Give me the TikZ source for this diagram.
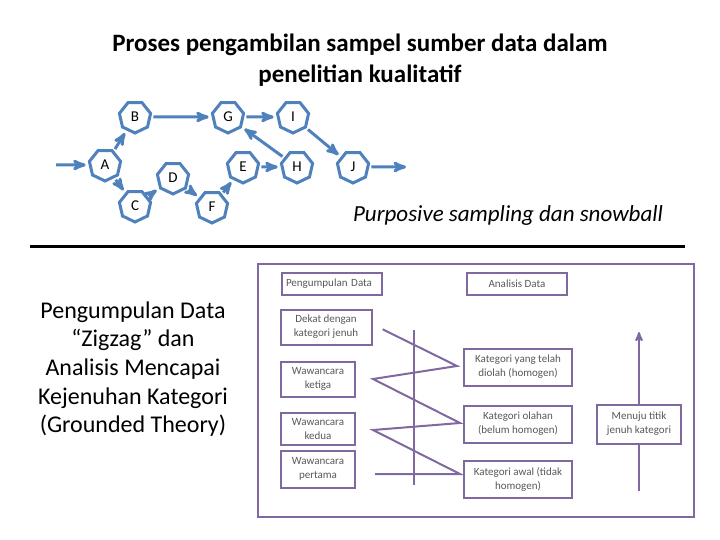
\documentclass[tikz,border=0pt]{standalone}
\usepackage{fontspec}
\setmainfont{Carlito}
\usetikzlibrary{arrows,shapes.geometric}
\definecolor{nodeblue}{RGB}{79,129,189}
\definecolor{boxpurple}{RGB}{128,104,160}

\begin{document}
\begin{tikzpicture}[x=1pt,y=-1pt,->,>=stealth',shorten >=3pt,shorten <=2pt,semithick]
		\useasboundingbox (0,0) rectangle (720,540);
		\tikzstyle{sampel}=[regular polygon,regular polygon sides=7,shape border rotate=180,minimum size=32pt,inner sep=0pt,draw=nodeblue,line width=3pt,fill=white,text=black,font=\fontsize{15}{17}\selectfont]
		\tikzstyle{alur}=[nodeblue,line width=3pt]
		\tikzstyle{kotak}=[draw=boxpurple,line width=2pt,fill=white,align=center,inner sep=0pt,text=black!65,font=\fontsize{11}{14}\selectfont]
		\tikzstyle{garis}=[-,draw=boxpurple,line width=2pt]
		% judul
		\node (judul) at (360,60) [align=center,font=\fontsize{25}{31}\selectfont\bfseries] {Proses pengambilan sampel sumber data dalam\\penelitian kualitatif};
		% sumber data
		\node[sampel] (A) at (105,165) {A};
		\node[sampel] (B) at (135,117) {B};
		\node[sampel] (C) at (135,206) {C};
		\node[sampel] (D) at (173,178) {D};
		\node[sampel] (F) at (212,207) {F};
		\node[sampel] (E) at (243,167) {E};
		\node[sampel] (G) at (228,117) {G};
		\node[sampel] (I) at (293,117) {I};
		\node[sampel] (H) at (297,167) {H};
		\node[sampel] (J) at (353,167) {J};
		\coordinate (masuk) at (54,165);
		\coordinate (keluar) at (409,167);
		\path[alur]
		(masuk) edge (A)
		(A) edge (B)
			edge (C)
		(B) edge (G)
		(C) edge (D)
		(D) edge (F)
		(F) edge (E)
		(E) edge (H)
		(H) edge (G)
		(G) edge (I)
		(I) edge (J)
		(J) edge (keluar);
		\node (teknik) at (508,215) [font=\fontsize{23}{27}\selectfont\itshape] {Purposive sampling dan snowball};
		\draw[-,line width=3pt] (28,246) -- (688,246);
		% zigzag
		\node (zigzag) at (133,369) [align=center,font=\fontsize{24}{28.7}\selectfont] {Pengumpulan Data\\``Zigzag'' dan\\Analisis Mencapai\\Kejenuhan Kategori\\(Grounded Theory)};
		\draw[-,draw=boxpurple,line width=2.5pt] (258,264) rectangle (694,517);
		\node[kotak,minimum width=100pt,minimum height=22pt,text width=92pt,align=left] (kumpul) at (332,284) {Pengumpulan Data};
		\node[kotak,minimum width=100pt,minimum height=22pt] (analisis) at (517,284) {Analisis Data};
		\node[kotak,minimum width=91pt,minimum height=35pt] (dekat) at (326,327) {Dekat dengan\\kategori jenuh};
		\node[kotak,minimum width=74pt,minimum height=35pt] (ketiga) at (318,379) {Wawancara\\ketiga};
		\node[kotak,minimum width=74pt,minimum height=32pt] (kedua) at (318,429) {Wawancara\\kedua};
		\node[kotak,minimum width=74pt,minimum height=37pt] (pertama) at (318,469) {Wawancara\\pertama};
		\node[kotak,minimum width=108pt,minimum height=37pt] (diolah) at (518,367) {Kategori yang telah\\diolah (homogen)};
		\node[kotak,minimum width=108pt,minimum height=37pt] (olahan) at (518,424) {Kategori olahan\\(belum homogen)};
		\node[kotak,minimum width=108pt,minimum height=37pt] (awal) at (518,479) {Kategori awal (tidak\\homogen)};
		\draw[garis] (414,328) -- (414,488);
		\draw[garis] (373,474) -- (460,474) -- (373,430) -- (460,423) -- (373,379) -- (457,366) -- (380,328);
		\coordinate (bawah) at (639,491);
		\coordinate (atas) at (639,332);
		\node[kotak,minimum width=84pt,minimum height=39pt] (menuju) at (639,424) {Menuju titik\\jenuh kategori};
		\draw[garis,shorten <=0pt,shorten >=0pt] (bawah) -- (menuju);
		\draw[garis,->,shorten <=0pt,shorten >=0pt] (menuju) -- (atas);
\end{tikzpicture}
\end{document}
